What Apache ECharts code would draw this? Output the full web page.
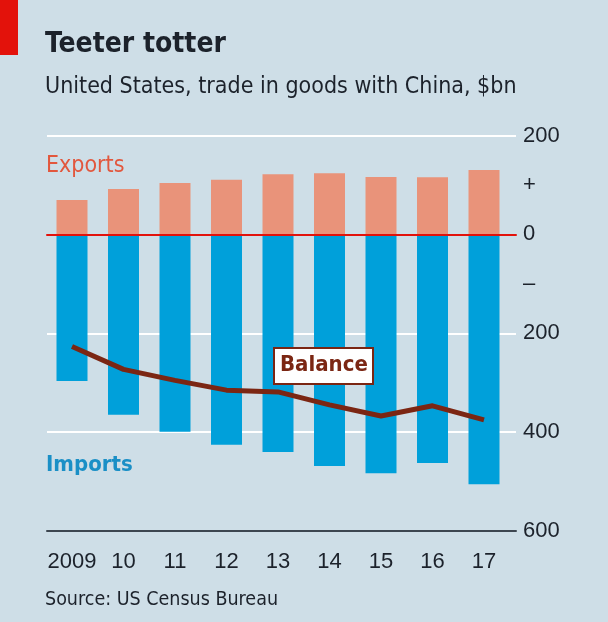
<!DOCTYPE html>
<html><head><meta charset="utf-8">
<script src="https://cdn.jsdelivr.net/npm/echarts@6/dist/echarts.min.js"></script>
<style>html,body{margin:0;padding:0;background:#cedee7}#c{width:608px;height:622px}</style>
</head><body><div id="c"></div>
<script>
const years = ['2009','10','11','12','13','14','15','16','17'];
const exportsBn = [69.5, 91.9, 104.1, 110.5, 121.7, 123.7, 115.9, 115.6, 130.4];
const importsBn = [-296.4, -365.0, -399.4, -425.6, -440.4, -468.5, -483.2, -462.4, -505.5];
const balanceBn = [-226.9, -273.0, -295.3, -315.1, -318.7, -344.8, -367.3, -346.8, -375.2];
const yTickValues = [-600, -500, -400, -300, -200, -100, 0, 100, 200];
const yTickLabels = ['600', '', '400', '', '200', '–', '0', '+', '200'];

const NARROW = '"Liberation Sans Narrow", "DejaVu Sans Condensed", sans-serif';
const NUM = '"Liberation Sans", sans-serif';
const BG = '#cedee7';
const TXT = '#1c222b';

const chart = echarts.init(document.getElementById('c'), null, {renderer: 'canvas'});
const option = {
  backgroundColor: BG,
  animation: false,
  grid: [
    {left: 46.25, right: 98.25, top: 135.5, bottom: 91, containLabel: false},
    {left: 47, right: 92, top: 135.5, bottom: 91, containLabel: false}
  ],
  xAxis: [
    {type: 'category', gridIndex: 0, data: years, boundaryGap: true,
     axisLine: {show: false},
     axisTick: {show: true, inside: true, length: 8, alignWithLabel: true, interval: 0, lineStyle: {color: '#3d4650', width: 1}},
     axisLabel: {interval: 0, color: TXT, fontFamily: NUM, fontSize: 22, margin: 20}},
    {type: 'value', gridIndex: 1, min: 0, max: 1, position: 'bottom',
     axisLine: {show: true, onZero: false, lineStyle: {color: '#3d4650', width: 2}},
     axisTick: {show: false}, axisLabel: {show: false}, splitLine: {show: false}},
    {type: 'value', gridIndex: 1, min: 0, max: 1, position: 'top', z: 10,
     axisLine: {show: true, onZero: true, lineStyle: {color: '#e3120b', width: 2}},
     axisTick: {show: false}, axisLabel: {show: false}, splitLine: {show: false}}
  ],
  yAxis: [
    {type: 'value', gridIndex: 0, min: -600, max: 200, show: false},
    {type: 'value', gridIndex: 1, min: -600, max: 200, interval: 200, position: 'right',
     axisLine: {show: false}, axisTick: {show: false}, axisLabel: {show: false},
     splitLine: {show: true, lineStyle: {color: '#ffffff', width: 2}}},
    {type: 'value', gridIndex: 1, min: -600, max: 200, interval: 100, position: 'right',
     axisLine: {show: false}, axisTick: {show: false}, splitLine: {show: false},
     axisLabel: {show: true, margin: 7, color: TXT, fontFamily: NUM, fontSize: 22,
       formatter: v => { const i = yTickValues.indexOf(Math.round(v)); return i >= 0 ? yTickLabels[i] : ''; }}}
  ],
  series: [
    {name: 'Exports', type: 'bar', xAxisIndex: 0, yAxisIndex: 0, stack: 'trade', barWidth: 31,
     itemStyle: {color: '#e9937a'}, data: exportsBn, z: 2},
    {name: 'Imports', type: 'bar', xAxisIndex: 0, yAxisIndex: 0, stack: 'trade', barWidth: 31,
     itemStyle: {color: '#00a0da'}, data: importsBn, z: 2},
    {name: 'Balance', type: 'line', xAxisIndex: 0, yAxisIndex: 0, data: balanceBn, symbol: 'none',
     lineStyle: {color: '#7b2613', width: 5, cap: 'butt', join: 'round'}, z: 4}
  ],
  graphic: [
    {type: 'rect', left: 0, top: 0, z: 100, shape: {width: 18, height: 55}, style: {fill: '#e3120b'}},
    {type: 'text', left: 45, top: 31, z: 100, style: {text: 'Teeter totter', font: 'bold 28px ' + NARROW, fill: TXT}},
    {type: 'text', left: 45, top: 76, z: 100, style: {text: 'United States, trade in goods with China, $bn', font: '23px ' + NARROW, fill: TXT}},
    {type: 'text', left: 45, top: 590, z: 100, style: {text: 'Source: US Census Bureau', font: '19.5px ' + NARROW, fill: TXT}},
    {type: 'text', left: 46, top: 155, z: 100, style: {text: 'Exports', font: '23px ' + NARROW, fill: '#e2573d'}},
    {type: 'text', left: 46, top: 454, z: 100, style: {text: 'Imports', font: 'bold 22px ' + NARROW, fill: '#1a8fc6'}},
    {type: 'rect', left: 273, top: 347, z: 100, shape: {width: 99, height: 36}, style: {fill: '#ffffff', stroke: '#7b2613', lineWidth: 2}},
    {type: 'text', left: 280, top: 354, z: 101, style: {text: 'Balance', font: 'bold 22px ' + NARROW, fill: '#7b2613'}}
  ]
};
chart.setOption(option);
</script></body></html>
